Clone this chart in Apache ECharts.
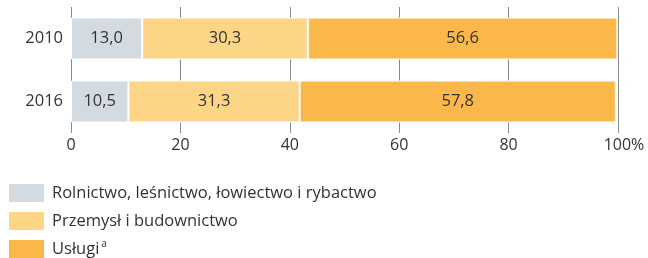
<!DOCTYPE html>
<html><head><meta charset="utf-8">
<script src="https://cdn.jsdelivr.net/npm/echarts@6/dist/echarts.min.js"></script>
<style>html,body{margin:0;padding:0;background:#fff}#c{width:648px;height:258px}</style>
</head><body><div id="c"></div>
<script>
const categories = ['2010', '2016'];
const seriesNames = ['Rolnictwo, leśnictwo, łowiectwo i rybactwo', 'Przemysł i budownictwo', 'Usługi'];
const rolnictwo = [13.0, 10.5];
const przemysl = [30.3, 31.3];
const uslugi = [56.6, 57.8];
const xTicks = [0, 20, 40, 60, 80, 100];
const colors = ['#D3DAE0', '#FDD587', '#FBB84A'];
const FONT = '"Open Sans", "Noto Sans", sans-serif';

const chart = echarts.init(document.getElementById('c'), null, {renderer: 'canvas'});
const fmt = v => v.toFixed(1).replace('.', ',');
function mk(name, data, color) {
  return {
    name, type: 'bar', stack: 'all', data, barWidth: 42,
    itemStyle: {color, borderColor: '#fff', borderWidth: 1},
    label: {show: true, position: 'inside', color: '#333', fontSize: 16.5, fontFamily: FONT,
      formatter: p => fmt(p.value)},
    emphasis: {disabled: true}
  };
}
const legendTops = [182, 210, 238];
const legends = seriesNames.map((n, i) => ({
  orient: 'vertical', left: 7, top: legendTops[i], padding: 0,
  itemWidth: 37, itemHeight: 20, selectedMode: false, icon: 'rect',
  data: [n],
  textStyle: {color: '#333', fontSize: 16.5, fontFamily: FONT, padding: [0, 0, 0, 2],
    rich: {sup: {fontSize: 10, color: '#333', fontFamily: FONT, padding: [0, 0, 9, 2]}}},
  formatter: x => x === 'Usługi' ? 'Usługi{sup|a}' : x
}));
chart.setOption({
  animation: false,
  textStyle: {fontFamily: FONT},
  grid: {left: 71, right: 30, top: 7, height: 126},
  xAxis: {
    type: 'value', min: xTicks[0], max: xTicks[xTicks.length - 1], interval: 20,
    axisLine: {show: false}, axisTick: {show: false},
    splitLine: {show: true, lineStyle: {color: '#8a8a8a', width: 1}},
    axisLabel: {
      color: '#333', fontSize: 16, fontFamily: FONT, margin: 4,
      formatter: v => v === 100 ? '{p|100%}' : String(v),
      rich: {p: {color: '#333', fontSize: 16, fontFamily: FONT, padding: [0, 0, 0, 12]}}
    }
  },
  yAxis: {
    type: 'category', data: categories, inverse: true,
    axisLine: {show: false}, axisTick: {show: false},
    axisLabel: {color: '#333', fontSize: 16.5, fontFamily: FONT, margin: 8}
  },
  legend: legends,
  series: [
    mk(seriesNames[0], rolnictwo, colors[0]),
    mk(seriesNames[1], przemysl, colors[1]),
    mk(seriesNames[2], uslugi, colors[2])
  ]
});
</script></body></html>
